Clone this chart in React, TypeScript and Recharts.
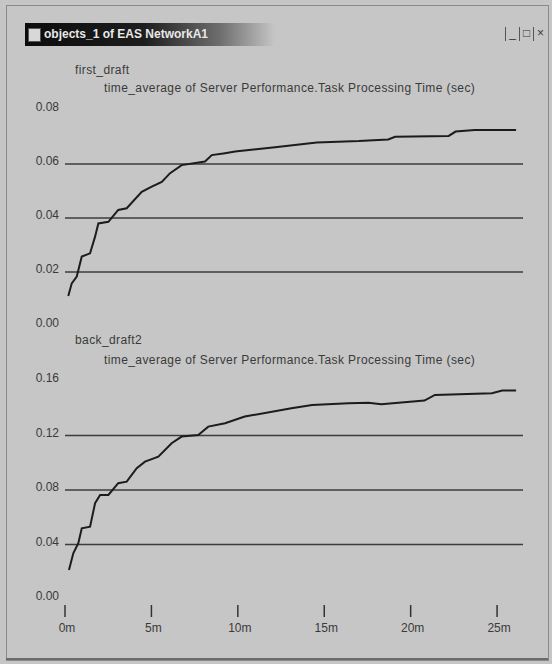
import React from "react"
import { LineChart, Line, XAxis, YAxis, ReferenceLine } from "recharts"

// time axis in minutes, shared by both panels
const TIME_TICKS = [0, 5, 10, 15, 20, 25]
const TIME_DOMAIN = [0, 26.5]

// first_draft panel
const TOP_TIME = [0.19, 0.39, 0.68, 0.97, 1.45, 1.74, 1.93, 2.51, 3.08, 3.57, 4.44, 5.02, 5.6, 6.08, 6.75, 8.1, 8.49, 9.26, 9.84, 12.15, 14.57, 17, 18.7, 19.1, 22.2, 22.6, 23.7, 26.1]
const TOP_VALUE = [0.0111, 0.0158, 0.0183, 0.0257, 0.0269, 0.0331, 0.038, 0.0386, 0.043, 0.0436, 0.0497, 0.0516, 0.0534, 0.0566, 0.0596, 0.0609, 0.0633, 0.064, 0.0646, 0.0662, 0.068, 0.0685, 0.0691, 0.0701, 0.0704, 0.072, 0.0726, 0.0726]
const TOP_TICKS = [0, 0.02, 0.04, 0.06, 0.08]
const TOP_GRID = [0.02, 0.04, 0.06]

// back_draft2 panel
const BOTTOM_TIME = [0.23, 0.48, 0.77, 0.97, 1.45, 1.74, 2.03, 2.51, 3.08, 3.57, 4.15, 4.63, 5.4, 6.17, 6.75, 7.71, 8.29, 9.26, 10.4, 13.1, 14.3, 16.4, 17.55, 18.3, 20.8, 21.4, 24.7, 25.3, 26.1]
const BOTTOM_VALUE = [0.0213, 0.0335, 0.0409, 0.0519, 0.0531, 0.0703, 0.0764, 0.0764, 0.085, 0.0861, 0.096, 0.1008, 0.1045, 0.1143, 0.1192, 0.1204, 0.1265, 0.129, 0.1339, 0.14, 0.1424, 0.1437, 0.1441, 0.143, 0.1456, 0.1498, 0.151, 0.153, 0.153]
const BOTTOM_TICKS = [0, 0.04, 0.08, 0.12, 0.16]
const BOTTOM_GRID = [0.04, 0.08, 0.12]

const SUBTITLE = "time_average of Server Performance.Task Processing Time (sec)"

const BG = "#c6c6c6"
const INK = "#3a3a3a"
const FONT = "'Liberation Sans', Arial, sans-serif"

function YTick({ x, y, payload }: any) {
  return (
    <text x={x} y={y - 3} dy="0.35em" textAnchor="end" fontSize={12} fill={INK} fontFamily={FONT}>
      {Number(payload.value).toFixed(2)}
    </text>
  )
}

function XTick({ x, y, payload }: any) {
  return (
    <g>
      <line x1={x} x2={x} y1={y + 6} y2={y + 18} stroke="#333" strokeWidth={1.5} />
      <text x={x + 2} y={y + 29} dy="0.35em" textAnchor="middle" fontSize={12} fill={INK} fontFamily={FONT}>
        {payload.value}m
      </text>
    </g>
  )
}

function Label({ left, top, children }: { left: number; top: number; children: React.ReactNode }) {
  return (
    <div
      style={{
        position: "absolute",
        left,
        top,
        fontSize: 12,
        lineHeight: "14px",
        letterSpacing: 0.4,
        color: INK,
        fontFamily: FONT,
        whiteSpace: "nowrap",
      }}
    >
      {children}
    </div>
  )
}

function Panel({
  top,
  height,
  times,
  values,
  ticks,
  grid,
  showTime,
}: {
  top: number
  height: number
  times: number[]
  values: number[]
  ticks: number[]
  grid: number[]
  showTime: boolean
}) {
  const data = times.map((t, i) => ({ t, v: values[i] }))
  return (
    <div style={{ position: "absolute", left: 0, top }}>
      <LineChart width={552} height={height} data={data} margin={{ top: 10, right: 29, bottom: showTime ? 0 : 10, left: 0 }}>
        <XAxis
          dataKey="t"
          type="number"
          domain={TIME_DOMAIN}
          ticks={TIME_TICKS}
          interval={0}
          hide={!showTime}
          axisLine={false}
          tickLine={false}
          tickSize={0}
          tickMargin={0}
          height={40}
          tick={<XTick />}
          allowDataOverflow
        />
        <YAxis
          type="number"
          domain={[ticks[0], ticks[ticks.length - 1]]}
          ticks={ticks}
          interval={0}
          width={65}
          axisLine={false}
          tickLine={false}
          tickSize={0}
          tickMargin={6}
          tick={<YTick />}
        />
        {grid.map((g) => (
          <ReferenceLine key={g} y={g} stroke="#3c3c3c" strokeWidth={1.5} />
        ))}
        <Line
          dataKey="v"
          type="linear"
          stroke="#1c1c1c"
          strokeWidth={2}
          dot={false}
          isAnimationActive={false}
        />
      </LineChart>
    </div>
  )
}

export default function App() {
  return (
    <div
      style={{
        position: "absolute",
        left: 0,
        top: 0,
        width: 552,
        height: 664,
        background: BG,
        overflow: "hidden",
        fontFamily: FONT,
      }}
    >
      {/* window frame */}
      <div style={{ position: "absolute", left: 6, top: 5, width: 541, height: 654, border: "1px solid #8a8a8a" }} />
      {/* title bar */}
      <div
        style={{
          position: "absolute",
          left: 25,
          top: 23,
          width: 520,
          height: 23,
          background: "linear-gradient(to right, #0c0c0c 0px, #1e1e1e 120px, #6e6e6e 195px, " + BG + " 250px)",
        }}
      />
      <div style={{ position: "absolute", left: 28, top: 28, width: 11, height: 12, background: "#d8d8d8", border: "1px solid #555" }} />
      <div
        style={{
          position: "absolute",
          left: 44,
          top: 27,
          fontSize: 12,
          lineHeight: "15px",
          fontWeight: "bold",
          color: "#e8e8e8",
          whiteSpace: "nowrap",
        }}
      >
        objects_1 of EAS NetworkA1
      </div>
      {["_", "□", "×"].map((s, i) => (
        <div
          key={s}
          style={{
            position: "absolute",
            left: 505 + i * 14,
            top: 27,
            width: 13,
            height: 14,
            borderLeft: "1px solid #555",
            fontSize: 12,
            lineHeight: "13px",
            textAlign: "center",
            color: INK,
          }}
        >
          {s}
        </div>
      ))}

      <Label left={75} top={63}>first_draft</Label>
      <Label left={104} top={81}>{SUBTITLE}</Label>
      <Panel top={100} height={236} times={TOP_TIME} values={TOP_VALUE} ticks={TOP_TICKS} grid={TOP_GRID} showTime={false} />

      <Label left={75} top={333}>back_draft2</Label>
      <Label left={104} top={353}>{SUBTITLE}</Label>
      <Panel top={371} height={268} times={BOTTOM_TIME} values={BOTTOM_VALUE} ticks={BOTTOM_TICKS} grid={BOTTOM_GRID} showTime />

      <div style={{ position: "absolute", left: 6, top: 658, width: 542, height: 2, background: "#6a6a6a" }} />
    </div>
  )
}
